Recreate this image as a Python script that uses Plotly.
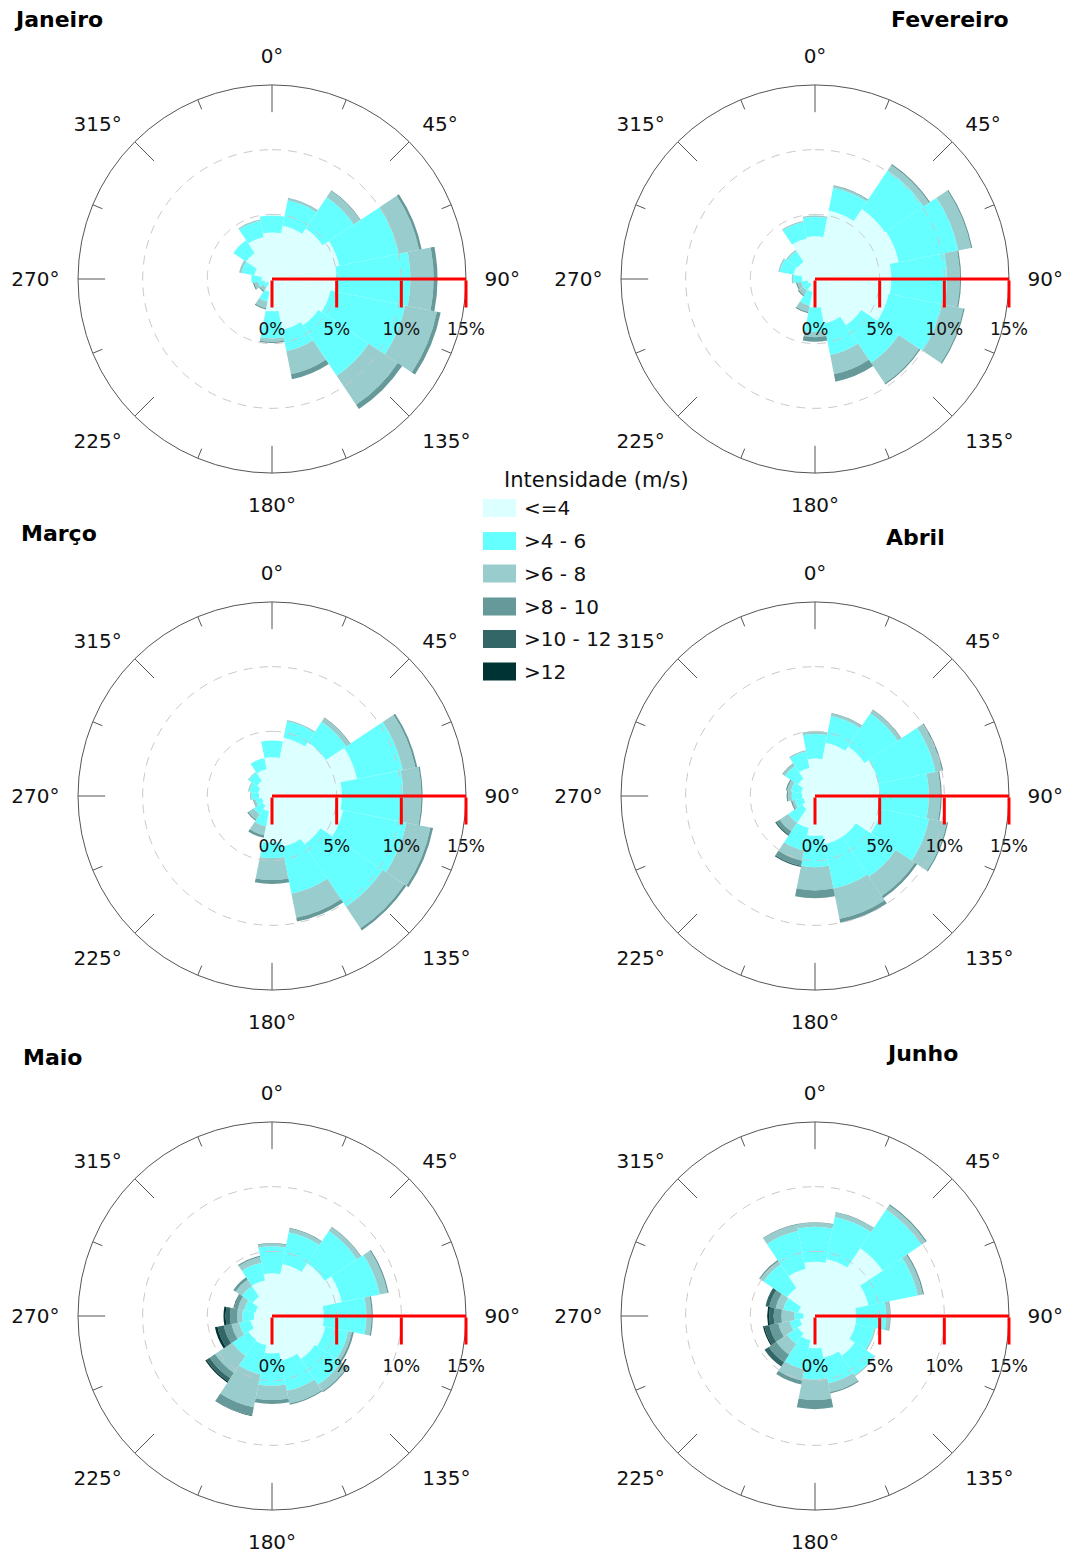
import plotly.graph_objects as go

# Reference geometry is given in window pixels; the page body adds an 8px margin.
OFF = 8
W, H = 1071 - OFF, 1559 - OFF
FONT = "DejaVu Sans"

# ---- categories -------------------------------------------------------
DIRECTIONS = [0, 22.5, 45, 67.5, 90, 112.5, 135, 157.5,
              180, 202.5, 225, 247.5, 270, 292.5, 315, 337.5]
CLASS_LABELS = ["<=4", ">4 - 6", ">6 - 8", ">8 - 10", ">10 - 12", ">12"]
CLASS_COLORS = ["#DCFFFF", "#66FFFF", "#99CCCC", "#669999", "#336666", "#003333"]
ANGLE_TICKS = [0, 45, 90, 135, 180, 225, 270, 315]
ANGLE_LABELS = ["0°", "45°", "90°", "135°", "180°", "225°", "270°", "315°"]
MINOR_TICKS = [22.5, 67.5, 112.5, 157.5, 202.5, 247.5, 292.5, 337.5]
SCALE_TICKS = [0, 5, 10, 15]
SCALE_LABELS = ["0%", "5%", "10%", "15%"]
MONTHS = ["Janeiro", "Fevereiro", "Março", "Abril", "Maio", "Junho"]
LEGEND_TITLE = "Intensidade (m/s)"

# ---- frequencies (%) per speed class, directions N..NNW ----------------
JAN_LE4 = [3.6, 4.2, 4.7, 5.3, 5.0, 4.6, 4.3, 4.0, 2.5, 1.0, 0.4, 0.6, 0.8, 1.4, 2.4, 3.3]
JAN_4_6 = [1.3, 2.0, 2.9, 4.7, 5.7, 5.9, 4.7, 1.7, 2.1, 0.8, 0.4, 0.5, 0.8, 1.0, 1.2, 1.3]
JAN_6_8 = [0.0, 0.2, 0.6, 1.6, 1.8, 2.5, 2.7, 1.8, 0.25, 0.5, 0.3, 0.3, 0.0, 0.2, 0.0, 0.1]
JAN_8_10 = [0, 0, 0.05, 0.2, 0.3, 0.3, 0.4, 0.4, 0.1, 0.1, 0.1, 0.1, 0, 0, 0, 0]
JAN_10_12 = [0] * 16
JAN_GT12 = [0] * 16

FEV_LE4 = [3.3, 5.4, 6.5, 6.6, 5.9, 5.8, 4.3, 3.5, 2.2, 1.0, 0.5, 0.6, 1.0, 1.7, 1.6, 3.2]
FEV_4_6 = [1.5, 1.8, 3.6, 4.7, 4.3, 4.2, 3.5, 2.5, 1.9, 1.1, 0.6, 0.5, 0.7, 1.1, 1.0, 1.3]
FEV_6_8 = [0.1, 0.15, 0.5, 1.0, 1.0, 1.7, 1.9, 1.5, 0.4, 0.5, 0.4, 0.3, 0.1, 0.1, 0.1, 0.1]
FEV_8_10 = [0, 0.05, 0.1, 0.1, 0.1, 0.1, 0.1, 0.6, 0.35, 0.1, 0.1, 0.1, 0, 0, 0, 0]
FEV_10_12 = [0] * 16
FEV_GT12 = [0] * 16

MAR_LE4 = [3.0, 4.6, 5.0, 6.7, 5.4, 5.6, 4.5, 4.0, 3.6, 1.2, 0.9, 0.8, 1.0, 1.1, 1.4, 2.1]
MAR_4_6 = [1.3, 1.3, 1.9, 3.6, 4.75, 5.0, 5.8, 3.7, 1.2, 1.2, 0.8, 0.5, 0.6, 0.7, 0.8, 0.9]
MAR_6_8 = [0, 0.1, 0.35, 1.0, 1.4, 1.9, 2.0, 1.9, 1.7, 0.7, 0.5, 0.15, 0.1, 0.1, 0.05, 0]
MAR_8_10 = [0, 0, 0.05, 0.15, 0.1, 0.2, 0.2, 0.3, 0.3, 0.2, 0.1, 0.05, 0, 0, 0, 0]
MAR_10_12 = [0] * 16
MAR_GT12 = [0] * 16

ABR_LE4 = [2.9, 4.2, 4.6, 5.0, 5.0, 5.2, 3.8, 3.8, 3.1, 2.5, 1.2, 0.9, 1.0, 1.1, 1.6, 2.2]
ABR_4_6 = [1.9, 2.1, 3.1, 4.5, 3.8, 3.8, 3.7, 3.5, 2.4, 1.8, 1.3, 0.7, 0.8, 0.8, 1.2, 1.3]
ABR_6_8 = [0.2, 0.2, 0.3, 0.5, 0.9, 1.4, 1.8, 2.4, 1.8, 0.8, 0.8, 0.2, 0.3, 0.3, 0.2, 0.1]
ABR_8_10 = [0, 0.05, 0.05, 0.1, 0.1, 0.1, 0.2, 0.3, 0.6, 0.4, 0.3, 0.1, 0.1, 0.1, 0.05, 0]
ABR_10_12 = [0, 0, 0, 0, 0, 0, 0, 0, 0, 0.1, 0.1, 0, 0, 0, 0, 0]
ABR_GT12 = [0] * 16

MAI_LE4 = [3.3, 4.1, 4.9, 5.5, 4.0, 4.2, 4.0, 3.5, 2.9, 2.3, 2.2, 1.7, 1.4, 1.3, 1.8, 2.8]
MAI_4_6 = [2.1, 2.5, 3.0, 3.0, 3.3, 1.8, 2.4, 2.4, 2.5, 2.3, 1.5, 0.9, 0.9, 0.9, 1.0, 1.4]
MAI_6_8 = [0.2, 0.3, 0.35, 0.6, 0.4, 0.3, 0.6, 1.0, 1.1, 2.6, 1.6, 0.6, 0.4, 0.5, 0.6, 0.45]
MAI_8_10 = [0.05, 0.05, 0.05, 0.1, 0.1, 0.15, 0.1, 0.1, 0.3, 0.65, 0.5, 0.6, 0.55, 0.3, 0.2, 0.1]
MAI_10_12 = [0, 0, 0, 0, 0, 0, 0, 0, 0, 0.05, 0.3, 0.5, 0.35, 0.05, 0, 0]
MAI_GT12 = [0, 0, 0, 0, 0, 0, 0, 0, 0, 0, 0.1, 0.2, 0.15, 0, 0, 0]

JUN_LE4 = [4.2, 4.5, 6.3, 4.2, 3.2, 3.2, 3.7, 3.3, 2.5, 1.9, 1.6, 1.2, 0.9, 1.3, 2.6, 3.7]
JUN_4_6 = [2.7, 3.3, 3.6, 3.9, 2.3, 1.5, 1.8, 2.0, 2.4, 2.3, 1.0, 0.8, 0.7, 1.2, 2.2, 3.0]
JUN_6_8 = [0.3, 0.35, 0.4, 0.4, 0.3, 0.1, 0.1, 0.7, 1.6, 0.9, 1.0, 0.9, 1.0, 0.6, 0.3, 0.5]
JUN_8_10 = [0.05, 0.05, 0.1, 0.1, 0.05, 0, 0, 0.1, 0.7, 0.3, 0.7, 0.7, 0.6, 0.5, 0.1, 0.05]
JUN_10_12 = [0, 0, 0, 0, 0, 0, 0, 0, 0, 0, 0.4, 0.4, 0.35, 0.3, 0, 0]
JUN_GT12 = [0, 0, 0, 0, 0, 0, 0, 0, 0, 0, 0, 0.1, 0.15, 0, 0, 0]

MONTH_DATA = [
    [JAN_LE4, JAN_4_6, JAN_6_8, JAN_8_10, JAN_10_12, JAN_GT12],
    [FEV_LE4, FEV_4_6, FEV_6_8, FEV_8_10, FEV_10_12, FEV_GT12],
    [MAR_LE4, MAR_4_6, MAR_6_8, MAR_8_10, MAR_10_12, MAR_GT12],
    [ABR_LE4, ABR_4_6, ABR_6_8, ABR_8_10, ABR_10_12, ABR_GT12],
    [MAI_LE4, MAI_4_6, MAI_6_8, MAI_8_10, MAI_10_12, MAI_GT12],
    [JUN_LE4, JUN_4_6, JUN_6_8, JUN_8_10, JUN_10_12, JUN_GT12],
]

# ---- layout (window-pixel geometry) ------------------------------------
R_MAX = 15
RADIUS_PX = 194
CENTERS = [(272, 279), (815, 279), (272, 796), (815, 796), (272, 1316), (815, 1316)]
TITLE_POS = [(13, 19), (890, 20), (20, 533), (885, 537), (22, 1057), (885, 1053)]
LEG_X, LEG_TITLE_X, LEG_TEXT_X = 483, 503, 523
LEG_TITLE_Y = 480
LEG_ROW_Y = [508, 541, 573.5, 606.5, 639, 671.5]
SWATCH_W, SWATCH_H = 33, 18


def px(x):
    return (x - OFF) / W


def py(y):
    return 1 - (y - OFF) / H


fig = go.Figure()
layout_polars = {}
circle_theta = [t * 2 for t in range(181)]

for i, (month, classes) in enumerate(zip(MONTHS, MONTH_DATA)):
    pid = "polar" if i == 0 else f"polar{i + 1}"
    for k, vals in enumerate(classes):
        fig.add_trace(go.Barpolar(
            r=vals, theta=DIRECTIONS, width=[22.5] * len(DIRECTIONS),
            marker=dict(color=CLASS_COLORS[k], line=dict(width=0)),
            name=CLASS_LABELS[k], showlegend=False, subplot=pid,
            hoverinfo="skip",
        ))
    # dashed grid circles drawn over the bars
    for gr in SCALE_TICKS[1:-1]:
        fig.add_trace(go.Scatterpolar(
            r=[gr] * len(circle_theta), theta=circle_theta, mode="lines",
            line=dict(color="#c8c8c8", width=1, dash="9px,7px"),
            showlegend=False, hoverinfo="skip", subplot=pid,
        ))
    # inward tick marks on the outer circle
    tr, tt = [], []
    for a in ANGLE_TICKS:
        tr += [R_MAX - 2.1, R_MAX, None]
        tt += [a, a, None]
    for a in MINOR_TICKS:
        tr += [R_MAX - 0.8, R_MAX, None]
        tt += [a, a, None]
    fig.add_trace(go.Scatterpolar(
        r=tr, theta=tt, mode="lines", line=dict(color="#555555", width=1),
        showlegend=False, hoverinfo="skip", subplot=pid,
    ))
    # labels of the red scale bar (placed under its ticks)
    fig.add_trace(go.Scatterpolar(
        r=SCALE_TICKS, theta=[90] * len(SCALE_TICKS), mode="markers+text",
        text=SCALE_LABELS, textposition="bottom center",
        textfont=dict(family=FONT, size=17, color="#111"),
        marker=dict(size=68, color="rgba(0,0,0,0)"),
        cliponaxis=False, showlegend=False, hoverinfo="skip", subplot=pid,
    ))

    cx, cy = CENTERS[i]
    layout_polars[pid] = dict(
        domain=dict(x=[px(cx - RADIUS_PX), px(cx + RADIUS_PX)],
                    y=[py(cy + RADIUS_PX), py(cy - RADIUS_PX)]),
        bgcolor="white",
        barmode="stack",
        angularaxis=dict(
            rotation=90, direction="clockwise",
            tickmode="array", tickvals=ANGLE_TICKS, ticktext=ANGLE_LABELS,
            ticks="outside", ticklen=14, tickcolor="rgba(0,0,0,0)",
            tickfont=dict(family=FONT, size=20, color="#111"),
            showline=True, linecolor="#555555", linewidth=1,
            showgrid=False,
        ),
        radialaxis=dict(
            range=[0, R_MAX], angle=0, side="clockwise",
            tickmode="array", tickvals=SCALE_TICKS, showticklabels=False,
            ticks="outside", ticklen=27, tickwidth=3, tickcolor="#ff0000",
            showline=True, linecolor="#ff0000", linewidth=3,
            showgrid=False, layer="above traces",
        ),
    )

annotations = []
for month, (tx, ty) in zip(MONTHS, TITLE_POS):
    annotations.append(dict(
        text=f"<b>{month}</b>", x=px(tx), y=py(ty), xref="paper", yref="paper",
        xanchor="left", yanchor="middle", showarrow=False, borderpad=0,
        font=dict(family=FONT, size=22, color="black"),
    ))

# legend: title, colour swatches and class labels
annotations.append(dict(
    text=LEGEND_TITLE, x=px(LEG_TITLE_X), y=py(LEG_TITLE_Y), xref="paper", yref="paper",
    xanchor="left", yanchor="middle", showarrow=False, borderpad=0,
    font=dict(family=FONT, size=21, color="#111"),
))
shapes = []
for label, color, ry in zip(CLASS_LABELS, CLASS_COLORS, LEG_ROW_Y):
    shapes.append(dict(
        type="rect", xref="paper", yref="paper",
        x0=px(LEG_X), x1=px(LEG_X + SWATCH_W),
        y0=py(ry + SWATCH_H / 2), y1=py(ry - SWATCH_H / 2),
        fillcolor=color, line=dict(width=0),
    ))
    annotations.append(dict(
        text=label, x=px(LEG_TEXT_X), y=py(ry), xref="paper", yref="paper",
        xanchor="left", yanchor="middle", showarrow=False, borderpad=0,
        font=dict(family=FONT, size=20, color="#111"),
    ))

fig.update_layout(
    width=W, height=H,
    margin=dict(l=0, r=0, t=0, b=0),
    paper_bgcolor="white", plot_bgcolor="white",
    font=dict(family=FONT, size=20, color="#111"),
    showlegend=False,
    annotations=annotations,
    shapes=shapes,
    **layout_polars,
)

fig.write_html("out.html")
